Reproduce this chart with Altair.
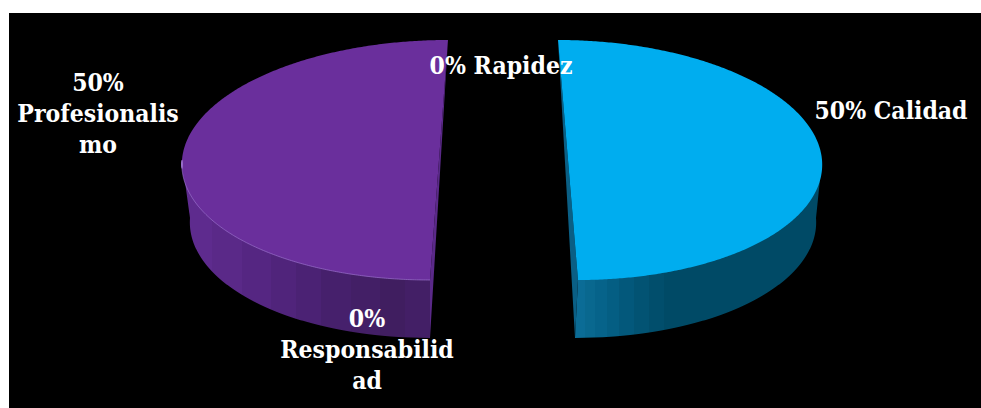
import numpy as np
import pandas as pd
import altair as alt

# Survey shares per attribute
categories = ["Calidad", "Rapidez", "Responsabilidad", "Profesionalismo"]
shares = [50, 0, 0, 50]
# Word wrapping of the data labels
wrapped_names = ["Calidad", "Rapidez", "Responsabilid\nad", "Profesionalis\nmo"]
label_breaks = [" ", " ", "\n", "\n"]

W, H = 981, 408
FONT = "DejaVu Serif Condensed, DejaVu Serif"
FONT_SIZE = 24.5

# Exploded pie drawing: ellipse centre, radii and tilt of each wedge's cut edge
wedge_layout = {
    "Calidad": dict(cx=568, cy=160, rx=254, ry=120, tilt=10,
                    base_cx=566, base_cy=218, base_rx=250, base_ry=120, base_tilt=9),
    "Profesionalismo": dict(cx=439, cy=160, rx=257, ry=120, tilt=-9,
                            base_cx=439, base_cy=218, base_rx=249, base_ry=120, base_tilt=-9),
}
# Side bands are (colour, end of band as a fraction of the band's width)
wedge_style = {
    "Calidad": dict(top="#00adef", wall="#0a5f85",
                    side=[("#0b6c96", 0.04), ("#09688f", 0.08), ("#06638a", 0.13), ("#045e83", 0.18),
                          ("#03587b", 0.24), ("#025373", 0.30), ("#014e6c", 0.36), ("#004a66", 1.0)]),
    "Profesionalismo": dict(top="#6a2f9c", wall="#5a2988",
                            side=[("#5e2b8e", 0.12), ("#5a2988", 0.24), ("#552682", 0.36), ("#50247b", 0.46),
                                  ("#4b2274", 0.56), ("#46206c", 0.68), ("#431f66", 0.80), ("#401e60", 0.90),
                                  ("#431f66", 1.0)]),
}
label_layout = {
    "Calidad": (891, 112),
    "Rapidez": (501, 67),
    "Responsabilidad": (367, 320),
    "Profesionalismo": (98, 84),
}

x_scale = alt.Scale(domain=[0, W], range=[0, W], nice=False, zero=False)
y_scale = alt.Scale(domain=[0, H], range=[0, H], nice=False, zero=False)


def enc(chart, x2=True):
    channels = dict(
        y=alt.Y("y:Q", scale=y_scale, axis=None),
        x=alt.X("x:Q", scale=x_scale, axis=None),
    )
    if x2:
        channels["x2"] = alt.X2("x2:Q")
    return chart.encode(**channels)


def wedge_frames(start, stop, g):
    """Top face, side band, inner wall and rim of one wedge from its angular span."""
    theta = np.linspace(start, stop, 361)
    sign = np.sign(np.sin((start + stop) / 2))
    v = -np.cos(theta)
    order = np.argsort(v)
    v = v[order]
    s = np.abs(np.sin(theta))[order]

    y = g["cy"] + g["ry"] * v
    edge = g["cx"] + g["tilt"] * v
    outer = edge + sign * g["rx"] * s
    top = pd.DataFrame({"y": y, "x": edge, "x2": outer})
    rim = top[top.y >= g["cy"]].assign(x=lambda d: d.x2)[["y", "x"]]

    apex_top = (g["cx"] - g["tilt"], g["cy"] - g["ry"])
    apex_bot = (g["cx"] + g["tilt"], g["cy"] + g["ry"])
    base_apex = (g["base_cx"] + g["base_tilt"], g["base_cy"] + g["base_ry"])

    # Side band: from the cut edge out to the base ellipse
    ys = np.linspace(g["cy"], base_apex[1], 240)
    vb = np.clip((ys - g["base_cy"]) / g["base_ry"], -1, 1)
    base_x = g["base_cx"] + g["base_tilt"] * vb + sign * g["base_rx"] * np.sqrt(1 - vb ** 2)
    ext0 = g["cx"] + sign * g["rx"]
    ext1 = g["base_cx"] + sign * g["base_rx"]
    shoulder = ext0 + (ext1 - ext0) * (ys - g["cy"]) / (g["base_cy"] - g["cy"])
    outer_side = np.where(ys <= g["base_cy"], shoulder, base_x)
    inner_side = np.where(
        ys <= apex_bot[1],
        apex_bot[0],
        apex_bot[0] + (base_apex[0] - apex_bot[0]) * (ys - apex_bot[1]) / (base_apex[1] - apex_bot[1]),
    )
    side = pd.DataFrame({"y": ys, "x": inner_side, "x2": outer_side})

    # Inner wall: thin sliver visible along the cut
    yw = np.linspace(apex_top[1], base_apex[1], 120)
    wall_far = apex_top[0] + (base_apex[0] - apex_top[0]) * (yw - apex_top[1]) / (base_apex[1] - apex_top[1])
    wall_near = np.where(
        yw <= apex_bot[1],
        g["cx"] + g["tilt"] * (yw - g["cy"]) / g["ry"],
        apex_bot[0] + (base_apex[0] - apex_bot[0]) * (yw - apex_bot[1]) / (base_apex[1] - apex_bot[1]),
    )
    wall = pd.DataFrame({"y": yw, "x": wall_far, "x2": wall_near})
    return top, side, wall, rim


layers = [
    alt.Chart(pd.DataFrame({"a": [0]})).mark_rect(color="#000000").encode(
        x=alt.value(9), x2=alt.value(W), y=alt.value(13), y2=alt.value(H)
    )
]

total = sum(shares)
angle = 0.0
for name, share in zip(categories, shares):
    span = 2 * np.pi * share / total
    if share > 0:
        g = wedge_layout[name]
        st = wedge_style[name]
        top, side, wall, rim = wedge_frames(angle, angle + span, g)
        stops = []
        begin = 0.0
        for c, end in st["side"]:
            stops.append(alt.GradientStop(color=c, offset=begin))
            stops.append(alt.GradientStop(color=c, offset=end))
            begin = end
        gradient = alt.LinearGradient(
            gradient="linear", stops=stops, x1=0, x2=1, y1=0, y2=0
        )
        layers.append(enc(alt.Chart(side).mark_area(orient="horizontal", color=gradient)))
        layers.append(enc(alt.Chart(wall).mark_area(orient="horizontal", color=st["wall"])))
        layers.append(enc(alt.Chart(top).mark_area(orient="horizontal", color=st["top"])))
        if name == "Profesionalismo":
            layers.append(
                enc(alt.Chart(rim).mark_line(color="#9a70cc", strokeWidth=1, opacity=0.7), x2=False)
            )
    angle += span

labels = pd.DataFrame(
    {
        "label": [f"{p}%{b}{n}" for p, b, n in zip(shares, label_breaks, wrapped_names)],
        "x": [label_layout[c][0] for c in categories],
        "y": [label_layout[c][1] for c in categories],
    }
)

layers.append(
    alt.Chart(labels)
    .mark_text(
        font=FONT, fontSize=FONT_SIZE, fontWeight="bold", color="#ffffff",
        align="center", baseline="middle", lineBreak="\n", lineHeight=31,
    )
    .encode(
        x=alt.X("x:Q", scale=x_scale, axis=None),
        y=alt.Y("y:Q", scale=y_scale, axis=None),
        text="label:N",
    )
)

chart = (
    alt.layer(*layers)
    .properties(width=W, height=H, padding=0, autosize=alt.AutoSizeParams(type="none"), background="#ffffff")
    .configure_view(strokeWidth=0)
)
chart.save("out.html", embed_options={"renderer": "svg", "actions": False})
